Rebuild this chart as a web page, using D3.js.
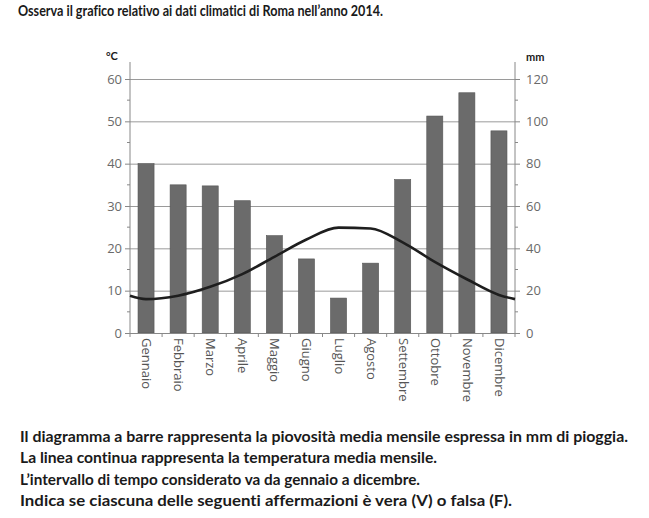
<!DOCTYPE html>
<html>
  <head>
    <meta charset="utf-8">
    <title>Roma 2014</title>
    <script src="https://d3js.org/d3.v7.min.js"></script>
    <style>
      body { margin: 0; background: #fff; }
      .tick text { font-family: "Open Sans", sans-serif; font-size: 13px; fill: #6a6a6a; }
      .month { font-family: "Open Sans", sans-serif; font-size: 13px; fill: #555; }
      .bold { font-family: Lato, "Open Sans", sans-serif; font-weight: bold; fill: #1a1a1a;
              font-variant-ligatures: none; }
    </style>
  </head>
  <body>
    <svg width="649" height="518"></svg>
    <script>
      const months = ["Gennaio", "Febbraio", "Marzo", "Aprile", "Maggio", "Giugno",
                      "Luglio", "Agosto", "Settembre", "Ottobre", "Novembre", "Dicembre"];
      const rain = [80, 70, 69.5, 62.5, 46, 35, 16.5, 33, 72.5, 102.5, 113.5, 95.5];
      const temp = [8.0, 8.8, 10.9, 13.9, 18.0, 22.1, 24.9, 24.7, 21.4, 16.8, 12.7, 9.0];
      const tempEdges = [8.8, 8.0];   // where the line meets the left and right axes
      const tempTicks = [0, 10, 20, 30, 40, 50, 60];
      const rainTicks = [0, 20, 40, 60, 80, 100, 120];

      const title = "Osserva il grafico relativo ai dati climatici di Roma nell\u2019anno 2014.";
      const notes = [
        "Il diagramma a barre rappresenta la piovosit\u00e0 media mensile espressa in mm di pioggia.",
        "La linea continua rappresenta la temperatura media mensile.",
        "L\u2019intervallo di tempo considerato va da gennaio a dicembre.",
        "Indica se ciascuna delle seguenti affermazioni \u00e8 vera (V) o falsa (F)."
      ];
      const noteWidths = [608, 417, 400, 492];

      const svg = d3.select("svg");
      const mLeft = 130, mRight = 515, mTop = 79, mBottom = 333;

      const x = d3.scaleBand().domain(months).range([mLeft, mRight])
          .paddingInner(0.5).paddingOuter(0.25);
      const yT = d3.scaleLinear().domain([0, 60]).range([mBottom, mTop]);
      const yR = d3.scaleLinear().domain([0, 120]).range([mBottom, mTop]);

      // title
      svg.append("text").attr("class", "bold")
          .attr("x", 18).attr("y", 16).style("font-size", "14.5px")
          .attr("textLength", 365).attr("lengthAdjust", "spacingAndGlyphs")
          .text(title);

      // gridlines
      svg.append("g").selectAll("line").data(tempTicks.slice(1)).join("line")
          .attr("x1", mLeft).attr("x2", mRight)
          .attr("y1", d => yT(d) + 0.5).attr("y2", d => yT(d) + 0.5)
          .attr("stroke", "#9a9a9a").attr("stroke-width", 1);

      // bars
      svg.append("g").selectAll("rect").data(months).join("rect")
          .attr("x", d => x(d))
          .attr("width", x.bandwidth())
          .attr("y", (d, i) => yR(rain[i]))
          .attr("height", (d, i) => mBottom - yR(rain[i]))
          .attr("fill", "#6b6b6b")
          .attr("stroke", "#555").attr("stroke-width", 0.6);

      // left axis
      const gL = svg.append("g").attr("transform", `translate(${mLeft},0)`);
      gL.call(d3.axisLeft(yT).tickValues(tempTicks).tickSize(5).tickPadding(3).tickFormat(d3.format("d")));
      gL.append("g").selectAll("line").data(d3.range(5, 60, 10)).join("line")
          .attr("x1", -3).attr("x2", 0).attr("y1", d => yT(d)).attr("y2", d => yT(d))
          .attr("stroke", "#888");
      gL.select(".domain").remove();
      gL.append("line").attr("x1", 0).attr("x2", 0).attr("y1", 62).attr("y2", mBottom).attr("stroke", "#888");
      gL.selectAll(".tick line").attr("stroke", "#888");

      // right axis
      const gR = svg.append("g").attr("transform", `translate(${mRight},0)`);
      gR.call(d3.axisRight(yR).tickValues(rainTicks).tickSize(5).tickPadding(6).tickFormat(d3.format("d")));
      gR.append("g").selectAll("line").data(d3.range(10, 120, 20)).join("line")
          .attr("x1", 0).attr("x2", 3).attr("y1", d => yR(d)).attr("y2", d => yR(d))
          .attr("stroke", "#888");
      gR.select(".domain").remove();
      gR.append("line").attr("x1", 0).attr("x2", 0).attr("y1", 62).attr("y2", mBottom).attr("stroke", "#888");
      gR.selectAll(".tick line").attr("stroke", "#888");

      // bottom axis: ticks at band boundaries
      const gB = svg.append("g");
      gB.append("line").attr("x1", mLeft).attr("x2", mRight).attr("y1", mBottom + 0.5).attr("y2", mBottom + 0.5)
          .attr("stroke", "#888");
      gB.selectAll(".bt").data(d3.range(months.length + 1)).join("line").attr("class", "bt")
          .attr("x1", i => mLeft + i * x.step()).attr("x2", i => mLeft + i * x.step())
          .attr("y1", mBottom).attr("y2", mBottom + 4).attr("stroke", "#888");
      gB.selectAll(".month").data(months).join("text").attr("class", "month")
          .attr("transform", d => `translate(${x(d) + x.bandwidth() / 2 - 4},${mBottom + 5}) rotate(90)`)
          .text(d => d);

      // unit labels
      svg.append("text").attr("class", "bold").attr("x", 106).attr("y", 60)
          .style("font-size", "11px").text("\u00b0C");
      svg.append("text").attr("class", "bold").attr("x", 526).attr("y", 61)
          .style("font-size", "11px").text("mm");

      // temperature line
      const pts = [[mLeft, tempEdges[0]]]
          .concat(months.map((m, i) => [x(m) + x.bandwidth() / 2, temp[i]]))
          .concat([[mRight, tempEdges[1]]]);
      svg.append("path").datum(pts)
          .attr("fill", "none").attr("stroke", "#1e1e1e").attr("stroke-width", 2.6)
          .attr("d", d3.line().x(d => d[0]).y(d => yT(d[1])).curve(d3.curveMonotoneX));

      // notes
      svg.append("g").selectAll("text").data(notes).join("text").attr("class", "bold")
          .attr("x", 20).attr("y", (d, i) => 442 + i * 21.3)
          .style("font-size", "15px")
          .attr("textLength", (d, i) => noteWidths[i]).attr("lengthAdjust", "spacingAndGlyphs")
          .text(d => d);
    </script>
  </body>
</html>
